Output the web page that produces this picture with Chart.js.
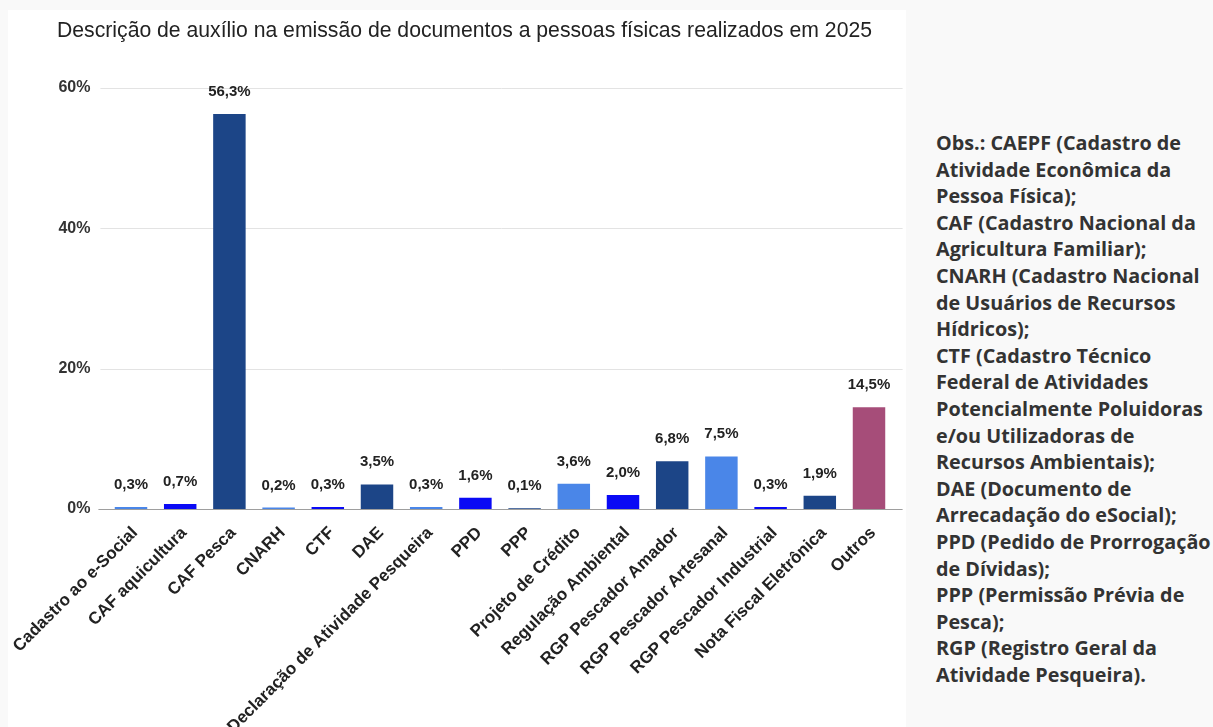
<!DOCTYPE html>
<html><head><meta charset="utf-8">
<script src="https://cdn.jsdelivr.net/npm/chart.js@4.4.1/dist/chart.umd.min.js"></script>
<style>
html,body{margin:0;padding:0;background:#f9f9f9;width:1213px;height:727px;overflow:hidden;}
#panel{position:absolute;left:8px;top:10px;width:898px;height:717px;background:#fff;}
#title{position:absolute;left:57px;top:18px;font-family:Arial,"Liberation Sans";font-size:21.2px;line-height:24px;color:#222;white-space:nowrap;}
#note{position:absolute;left:936px;top:130px;width:277px;font-family:"Open Sans";font-weight:bold;font-size:19.8px;line-height:26.6px;color:#333;white-space:nowrap;}
</style></head><body>
<div id="panel"><canvas id="c" width="898" height="717"></canvas></div>
<div id="title"></div>
<div id="note">Obs.: CAEPF (Cadastro de<br>Atividade Econômica da<br>Pessoa Física);<br>CAF (Cadastro Nacional da<br>Agricultura Familiar);<br>CNARH (Cadastro Nacional<br>de Usuários de Recursos<br>Hídricos);<br>CTF (Cadastro Técnico<br>Federal de Atividades<br>Potencialmente Poluidoras<br>e/ou Utilizadoras de<br>Recursos Ambientais);<br>DAE (Documento de<br>Arrecadação do eSocial);<br>PPD (Pedido de Prorrogação<br>de Dívidas);<br>PPP (Permissão Prévia de<br>Pesca);<br>RGP (Registro Geral da<br>Atividade Pesqueira).</div>
<script>
const categories = ["Cadastro ao e-Social","CAF aquicultura","CAF Pesca","CNARH","CTF","DAE","Declaração de Atividade Pesqueira","PPD","PPP","Projeto de Crédito","Regulação Ambiental","RGP Pescador Amador","RGP Pescador Artesanal","RGP Pescador Industrial","Nota Fiscal Eletrônica","Outros"];
const values = [0.3,0.7,56.3,0.2,0.3,3.5,0.3,1.6,0.1,3.6,2.0,6.8,7.5,0.3,1.9,14.5];
const barColors = ["#4a86e8","#0a0af5","#1c4587","#4a86e8","#0a0af5","#1c4587","#4a86e8","#0a0af5","#1c4587","#4a86e8","#0a0af5","#1c4587","#4a86e8","#0a0af5","#1c4587","#a64d79"];
const yTicks = [0,20,40,60];
const titleText = "Descrição de auxílio na emissão de documentos a pessoas físicas realizados em 2025";

document.getElementById('title').textContent = titleText;
const fmt = v => v.toFixed(1).replace('.', ',') + '%';

const gridPlugin = {
  id: 'gridPlugin',
  beforeDatasetsDraw(chart) {
    const {ctx, chartArea, scales} = chart;
    ctx.save();
    ctx.strokeStyle = '#e3e3e3';
    ctx.lineWidth = 1;
    yTicks.forEach(t => {
      if (t === 0) return;
      const y = Math.round(scales.y.getPixelForValue(t)) + 0.5;
      ctx.beginPath();
      ctx.moveTo(chartArea.left - 6, y);
      ctx.lineTo(chartArea.right + 9, y);
      ctx.stroke();
    });
    ctx.restore();
  },
  afterDatasetsDraw(chart) {
    const {ctx, chartArea, scales} = chart;
    ctx.save();
    ctx.strokeStyle = '#9e9e9e';
    ctx.lineWidth = 1.2;
    const y = Math.round(scales.y.getPixelForValue(0)) + 0.5;
    ctx.beginPath();
    ctx.moveTo(chartArea.left - 8, y);
    ctx.lineTo(chartArea.right + 9, y);
    ctx.stroke();
    const meta = chart.getDatasetMeta(0);
    ctx.fillStyle = '#222';
    ctx.font = 'bold 15px Arial, "Liberation Sans"';
    ctx.textAlign = 'center';
    ctx.textBaseline = 'alphabetic';
    meta.data.forEach((bar, i) => {
      ctx.fillText(fmt(values[i]), bar.x, bar.y - 18);
    });
    ctx.restore();
  }
};

new Chart(document.getElementById('c'), {
  type: 'bar',
  data: {
    labels: categories,
    datasets: [{
      data: values,
      backgroundColor: barColors,
      barPercentage: 0.66,
      categoryPercentage: 1.0
    }]
  },
  options: {
    responsive: false,
    animation: false,
    layout: { padding: { left: 30, right: 12.4, top: 78, bottom: 0 } },
    plugins: {
      legend: { display: false },
      tooltip: { enabled: false },
      title: { display: false }
    },
    scales: {
      x: {
        grid: { display: false },
        border: { display: false },
        ticks: {
          color: '#222',
          font: { family: 'Arial, "Liberation Sans"', size: 17, weight: 'bold' },
          minRotation: 45,
          maxRotation: 45,
          autoSkip: false,
          padding: 6,
          labelOffset: 4
        },
        afterFit(scale) { scale.height = 218; scale.paddingLeft = 0; scale.paddingRight = 0; }
      },
      y: {
        min: 0, max: 60,
        grid: { display: false },
        border: { display: false },
        ticks: {
          stepSize: 20,
          color: '#333',
          font: { family: 'Arial, "Liberation Sans"', size: 16, weight: 'bold' },
          padding: 8,
          callback: v => v + '%'
        },
        afterFit(scale) { scale.width = 68.4; scale.paddingTop = 0; scale.paddingBottom = 0; }
      }
    }
  },
  plugins: [gridPlugin]
});
</script>
</body></html>
